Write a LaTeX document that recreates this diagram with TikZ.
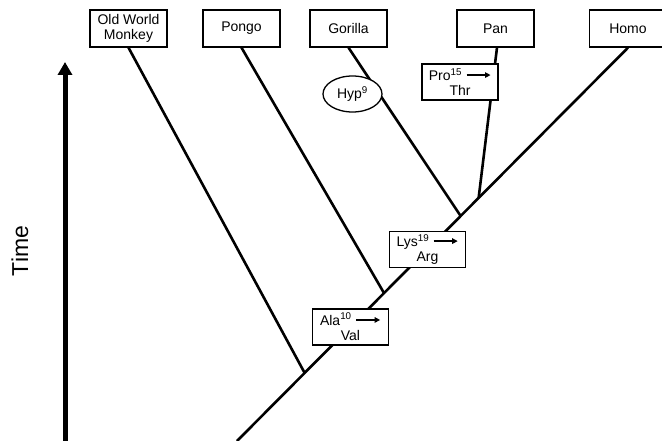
\documentclass[tikz,border=0pt]{standalone}
\usepackage{fontspec}
\setmainfont{Liberation Sans}
\usetikzlibrary{shapes.geometric,arrows.meta,calc}
\newcommand{\mutarrow}{\tikz[baseline=-0.7ex]\draw[line width=1.2pt,-{Triangle[length=5.5pt,width=5.5pt]}] (0pt,0pt)--(24pt,0pt);}
\begin{document}
\begin{tikzpicture}[x=1pt,y=-1pt,
  taxon/.style={draw, line width=1.3pt, minimum width=77pt, minimum height=37pt, inner sep=1pt, align=center, fill=white, font=\fontsize{14}{15.5}\selectfont},
  mutbox/.style={taxon, minimum width=76pt, minimum height=36pt},
  branch/.style={line width=2.6pt},
  timearrow/.style={line width=5pt, -{Triangle[length=13pt,width=14pt]}}]
\useasboundingbox (0,0) rectangle (662,441);
% taxa
\node[taxon] (owm) at (128.5,28.5) {Old World\\Monkey};
\node[taxon] (pongo) at (241.5,28.5) {Pongo};
\node[taxon] (gorilla) at (348.5,28.5) {Gorilla};
\node[taxon] (pan) at (495.5,28.5) {Pan};
\node[taxon] (homo) at (628,28.5) {Homo};
% tree
\coordinate (root) at (237,441);
\coordinate (jowm) at ($(root)!0.173!(homo.south)$);
\coordinate (jpongo) at ($(root)!0.376!(homo.south)$);
\coordinate (jgorilla) at ($(root)!0.572!(homo.south)$);
\coordinate (jpan) at ($(root)!0.618!(homo.south)$);
\draw[branch] (root) -- (homo.south);
\draw[branch] (owm.south) -- (jowm);
\draw[branch] (pongo.south) -- (jpongo);
\draw[branch] (gorilla.south) -- (jgorilla);
\draw[branch] ([xshift=1.5pt]pan.south) -- (jpan);
% mutations
\node[mutbox] (ala) at ($(root)!0.29!(homo.south)$) {Ala\textsuperscript{10} \mutarrow\\Val};
\node[mutbox] (lys) at ($(root)!0.487!(homo.south)$) {Lys\textsuperscript{19} \mutarrow\\Arg};
\node[mutbox] (pro) at (460,82) {Pro\textsuperscript{15} \mutarrow\\Thr};
\node[ellipse, draw, line width=1.3pt, fill=white, minimum width=59pt, minimum height=36pt, inner sep=0pt, font=\fontsize{14}{15.5}\selectfont] (hyp) at (352.5,94) {Hyp\textsuperscript{9}};
% time axis
\coordinate (tbot) at (65,441);
\coordinate (ttop) at (65,62);
\draw[timearrow] (tbot) -- (ttop);
\node[rotate=90, font=\fontsize{23}{26}\selectfont] (time) at (20,251) {Time};
\end{tikzpicture}
\end{document}
